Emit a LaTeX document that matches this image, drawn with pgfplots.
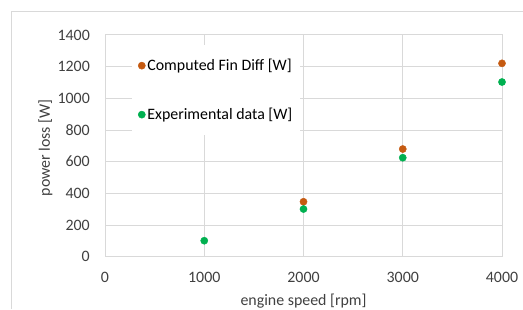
\documentclass[border=0pt]{standalone}
\usepackage{fontspec}
\setmainfont{Carlito}
\usepackage{pgfplots}
\pgfplotsset{compat=1.18}
\definecolor{orng}{HTML}{C55A11}
\definecolor{grn}{HTML}{00B050}
\definecolor{gridc}{HTML}{D9D9D9}
\definecolor{txt}{HTML}{404040}
\newcommand{\fs}{\fontsize{15.9bp}{18bp}\selectfont}
\begin{document}
\begin{tikzpicture}[x=1bp,y=1bp]
\draw[gridc, line width=1bp] (11.5,0) -- (11.5,297.5) -- (523,297.5);
\begin{axis}[
  at={(105bp,52.3bp)}, anchor=south west,
  scale only axis, width=397bp, height=221.7bp,
  xmin=0, xmax=4000, ymin=0, ymax=1400,
  xtick={0,1000,...,4000}, ytick={0,200,...,1400},
  grid=major, grid style={gridc, line width=1bp},
  axis line style={gridc, line width=1bp},
  major tick length=0pt,
  /pgf/number format/assume math mode=true,
  /pgf/number format/set thousands separator={},
  ticklabel style={font=\fs, text=txt, inner sep=0pt},
  xticklabel style={anchor=center, yshift=-21bp},
  yticklabel style={anchor=east, xshift=-15bp},
  xlabel={engine speed [rpm]},
  ylabel={power loss [W]},
  xlabel style={font=\fs, text=txt, at={(axis description cs:0.5,0)}, anchor=center, yshift=-44.5bp, inner sep=0pt},
  ylabel style={font=\fs, text=txt, at={(axis description cs:0,0.5)}, anchor=center, yshift=59.5bp, xshift=-2bp, inner sep=0pt},
  legend style={at={(axis description cs:0.068,0.955)}, anchor=north west, draw=none, fill=white,
    font=\fs, text=black, row sep=32bp, inner xsep=6bp, inner ysep=12bp,
    cells={anchor=west}},
  legend image code/.code={\draw[#1,mark repeat=1,mark phase=1] plot coordinates {(3bp,0bp)};},
]
\addplot[only marks, mark=*, mark size=3.6bp, color=orng] coordinates {
  (2000,347) (3000,680) (4000,1221)};
\addlegendentry{Computed Fin Diff [W]\hspace{14bp}}
\addplot[only marks, mark=*, mark size=3.6bp, color=grn] coordinates {
  (1000,101) (2000,301) (3000,625) (4000,1103)};
\addlegendentry{Experimental data [W]}
\end{axis}
\pgfresetboundingbox
\path (0,0) rectangle (523,309);
\end{tikzpicture}
\end{document}
